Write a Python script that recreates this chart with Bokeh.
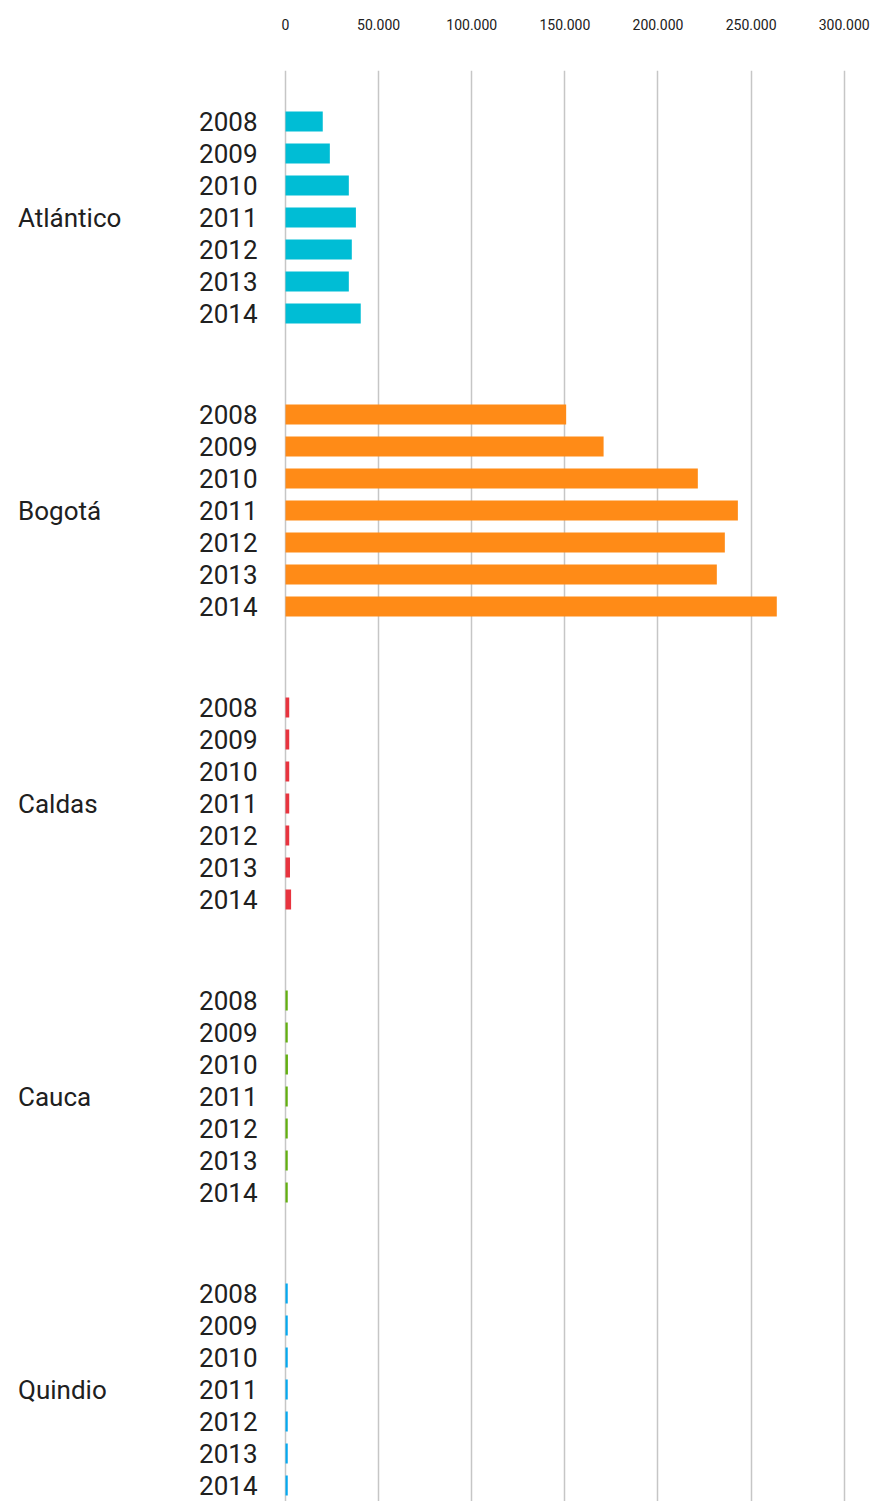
from bokeh.plotting import figure
from bokeh.models import Range1d, FixedTicker, ColumnDataSource
from bokeh.core.properties import value
from bokeh.embed import file_html
from bokeh.resources import INLINE

departments = ["Atlántico", "Bogotá", "Caldas", "Cauca", "Quindio"]
years = ["2008", "2009", "2010", "2011", "2012", "2013", "2014"]
atlantico = [20000, 23800, 34000, 37800, 35600, 34000, 40400]
bogota = [150700, 170800, 221400, 242900, 235900, 231600, 263800]
caldas = [2000, 2000, 2000, 2000, 2000, 2400, 3000]
cauca = [1200, 1200, 1300, 1200, 1200, 1200, 1200]
quindio = [1200, 1200, 1200, 1200, 1200, 1200, 1200]
series = [atlantico, bogota, caldas, cauca, quindio]
colors = ["#00BDD5", "#FF8B17", "#E8343F", "#63B010", "#05A9F0"]
x_ticks = [0, 50000, 100000, 150000, 200000, 250000, 300000]
x_tick_labels = ["0", "50.000", "100.000", "150.000", "200.000", "250.000", "300.000"]

# layout units (half pixels)
ROW = 64
GROUP = 586
BAR_H = 40
TEXT_COLOR = "#202020"

ys, vals, cols, yrs, zeros = [], [], [], [], []
for g, vs in enumerate(series):
    for i, v in enumerate(vs):
        ys.append(g * GROUP + i * ROW)
        vals.append(v)
        cols.append(colors[g])
        yrs.append(years[i])
        zeros.append(0)
src = ColumnDataSource(dict(y=ys, v=vals, c=cols, t=yrs, x0=zeros))

dept_src = ColumnDataSource(dict(
    y=[g * GROUP + 3 * ROW for g in range(len(departments))],
    x0=[0] * len(departments),
    t=departments))

p = figure(width=883, height=1501,
           x_range=Range1d(-153037, 316800), y_range=Range1d(2760, -102),
           x_axis_location="above", y_axis_location=None,
           toolbar_location=None, output_backend="svg",
           min_border_left=0, min_border_right=8, min_border_top=70,
           min_border_bottom=0)
p.outline_line_color = None
p.background_fill_color = "white"
p.border_fill_color = "white"

p.hbar(y="y", left=0, right="v", height=BAR_H, source=src,
       fill_color="c", line_color=None)

# year labels (right-aligned, 28px left of the zero line)
p.text(x="x0", y="y", text="t", source=src, x_offset=-28,
       text_font=value("Roboto"), text_font_size="26px",
       text_color=TEXT_COLOR, text_align="right", text_baseline="middle")

# department labels (left-aligned near the left edge)
p.text(x="x0", y="y", text="t", source=dept_src, x_offset=-267.5,
       text_font=value("Roboto"), text_font_size="26px",
       text_color=TEXT_COLOR, text_align="left", text_baseline="middle")

xa = p.xaxis[0]
xa.ticker = FixedTicker(ticks=x_ticks)
xa.major_label_overrides = {t: l for t, l in zip(x_ticks, x_tick_labels)}
xa.axis_line_color = None
xa.major_tick_line_color = None
xa.minor_tick_line_color = None
xa.major_tick_out = 0
xa.minor_tick_out = 0
xa.major_label_standoff = 41
xa.major_label_text_font = "Roboto"
xa.major_label_text_font_size = "14px"
xa.major_label_text_color = TEXT_COLOR

p.xgrid.grid_line_color = "#C6C6C6"
p.xgrid.grid_line_width = 1.5
p.ygrid.visible = False

open("out.html", "w").write(file_html(p, INLINE))
